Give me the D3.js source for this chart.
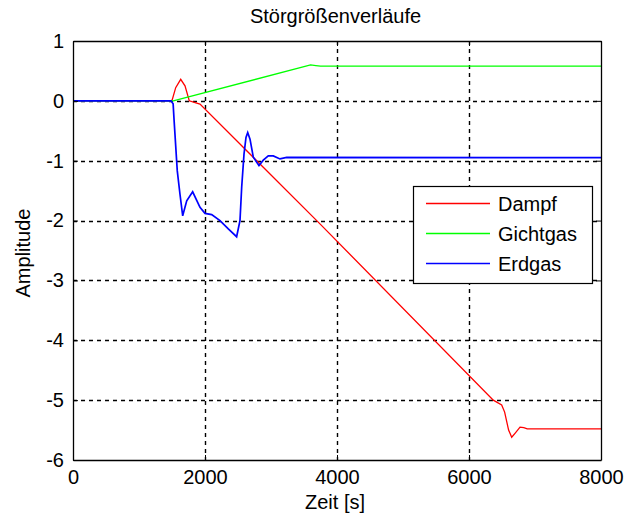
<!DOCTYPE html>
<html><head><meta charset="utf-8">
<script src="https://cdn.jsdelivr.net/npm/d3@7"></script>
<style>
html,body{margin:0;padding:0;background:#fff;}
text{font-family:Arial,"Liberation Sans",sans-serif;}
</style></head>
<body><svg id="c" width="624" height="517"></svg>
<script>
const titleText = "Störgrößenverläufe";
const xLabel = "Zeit [s]";
const yLabel = "Amplitude";
const xTicks = [0, 2000, 4000, 6000, 8000];
const yTicks = [1, 0, -1, -2, -3, -4, -5, -6];
const seriesNames = ["Dampf", "Gichtgas", "Erdgas"];
const seriesColors = ["#ff0000", "#00ff00", "#0000ff"];

const dampfT = [0,1490,1504,1556,1632,1697,1762,1850,1924,3742,6368,6495,6540,6600,6647,6700,6773,6830,6883,8000];
const dampfV = [0,0,0.02,0.22,0.36,0.25,0,-0.03,-0.055,-2.055,-5.0,-5.08,-5.2,-5.5,-5.62,-5.55,-5.45,-5.46,-5.48,-5.48];

const gichtT = [0,1520,3600,3680,3750,8000];
const gichtV = [0,0,0.6,0.59,0.58,0.58];

const erdT = [0,1485,1517,1532,1580,1621,1662,1723,1813,1924,2000,2101,2227,2353,2479,2530,2556,2591,2621,2647,2682,2732,2818,2883,2959,3035,3136,3237,8000];
const erdV = [0,0,-0.05,-0.33,-1.17,-1.56,-1.92,-1.67,-1.52,-1.78,-1.88,-1.9,-2.0,-2.14,-2.27,-2.0,-1.44,-0.89,-0.61,-0.53,-0.64,-0.94,-1.08,-0.99,-0.92,-0.92,-0.97,-0.945,-0.95];

const svg = d3.select("#c");
const L = 73, R = 601, T = 41, B = 460;
const x = d3.scaleLinear().domain([0, 8000]).range([L, R]);
const y = d3.scaleLinear().domain([-6, 1]).range([B, T]);

svg.append("rect").attr("width",624).attr("height",517).attr("fill","#fff");

// grid
const grid = svg.append("g").attr("stroke","#000").attr("stroke-width",1.4).attr("stroke-dasharray","4,4");
xTicks.slice(1,-1).forEach(t => grid.append("line").attr("x1",Math.round(x(t))+0.5).attr("x2",Math.round(x(t))+0.5).attr("y1",T).attr("y2",B));
yTicks.slice(1,-1).forEach(t => grid.append("line").attr("y1",Math.round(y(t))+0.5).attr("y2",Math.round(y(t))+0.5).attr("x1",L).attr("x2",R));

// series
const data = [[dampfT,dampfV],[gichtT,gichtV],[erdT,erdV]];
const line = d3.line().x(d => x(d[0])).y(d => y(d[1]));
data.forEach((s,i) => {
  const pts = s[0].map((t,j) => [t, s[1][j]]);
  svg.append("path").attr("d", line(pts)).attr("fill","none")
    .attr("stroke", seriesColors[i]).attr("stroke-width", i===2 ? 1.7 : 1.3);
});

// axes
const fmt = d => String(d);
function styleAxis(g){ g.selectAll("path").attr("stroke","#000"); g.selectAll("line").attr("stroke","#000"); g.selectAll("text").attr("fill","#000").style("font-family","Arial, 'Liberation Sans', sans-serif").style("font-size","20px"); }
svg.append("g").attr("transform",`translate(0,${B})`)
  .call(d3.axisBottom(x).tickValues(xTicks).tickFormat(fmt).tickSize(-5).tickSizeOuter(0).tickPadding(10)).call(styleAxis);
svg.append("g").attr("transform",`translate(${L},0)`)
  .call(d3.axisLeft(y).tickValues(yTicks).tickFormat(fmt).tickSize(-5).tickSizeOuter(0).tickPadding(9)).call(styleAxis);
svg.append("g").attr("transform",`translate(0,${T})`)
  .call(d3.axisTop(x).tickValues(xTicks).tickFormat("").tickSize(-5).tickSizeOuter(0)).call(styleAxis);
svg.append("g").attr("transform",`translate(${R},0)`)
  .call(d3.axisRight(y).tickValues(yTicks).tickFormat("").tickSize(-5).tickSizeOuter(0)).call(styleAxis);
svg.selectAll(".domain").attr("stroke-width",1.3);

// labels
svg.append("text").attr("x",335.5).attr("y",23).attr("text-anchor","middle").style("font-size","20px").text(titleText);
svg.append("text").attr("x",335).attr("y",509).attr("text-anchor","middle").style("font-size","20px").text(xLabel);
svg.append("text").attr("transform","translate(30,253) rotate(-90)").attr("text-anchor","middle").style("font-size","20px").text(yLabel);

// legend
const lg = svg.append("g");
lg.append("rect").attr("x",413.5).attr("y",186.5).attr("width",179).attr("height",97).attr("fill","#fff").attr("stroke","#000").attr("stroke-width",1.2);
seriesNames.forEach((n,i) => {
  const yy = 203.5 + i*30;
  lg.append("line").attr("x1",426).attr("x2",490).attr("y1",yy).attr("y2",yy).attr("stroke",seriesColors[i]).attr("stroke-width",1.4);
  lg.append("text").attr("x",498).attr("y",yy+7.5).style("font-size","20px").text(n);
});
</script></body></html>
